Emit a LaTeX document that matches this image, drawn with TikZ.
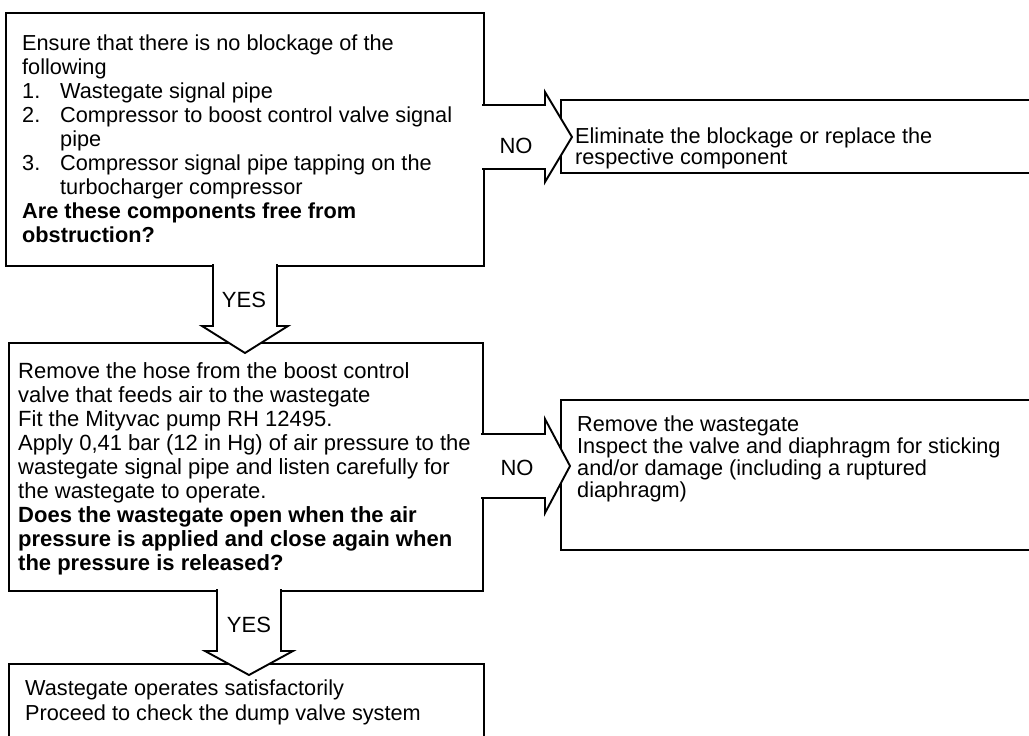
\documentclass[tikz,border=0pt]{standalone}
\usepackage{fontspec}
\setmainfont{Liberation Sans}
\begin{document}
\begin{tikzpicture}[x=1pt,y=-1pt,
  box/.style={draw, line width=1.9pt, fill=white, rectangle, inner sep=0pt, anchor=north west},
  body/.style={anchor=north west, inner sep=0pt, align=left, font=\fontsize{21.7}{24}\selectfont},
  tag/.style={inner sep=0pt, font=\fontsize{22}{24}\selectfont},
  outline/.style={line width=1.9pt, line join=miter}]
\useasboundingbox (0,0) rectangle (1029,736);
\clip (0,0) rectangle (1029,736);

% question and action boxes
\node[box, minimum width=478pt, minimum height=253pt] (q1) at (5,12) {};
\node[box, minimum width=480pt, minimum height=73pt] (r1) at (560,99) {};
\node[box, minimum width=474pt, minimum height=248pt] (q2) at (8,342) {};
\node[box, minimum width=480pt, minimum height=150pt] (r2) at (560,399) {};
\node[box, minimum width=475pt, minimum height=85pt] (done) at (8,663) {};

% block arrows: NO to the right, YES downwards
\fill[white] (480,105) -- (545,105) -- (545,92) -- (572,137) -- (545,182) -- (545,169) -- (480,169) -- cycle;
\draw[outline] (482,105) -- (545,105) -- (545,92) -- (572,137) -- (545,182) -- (545,169) -- (482,169);

\fill[white] (480,434) -- (545,434) -- (545,419) -- (570,466) -- (545,513) -- (545,498) -- (480,498) -- cycle;
\draw[outline] (481,434) -- (545,434) -- (545,419) -- (570,466) -- (545,513) -- (545,498) -- (481,498);

\fill[white] (213,262) -- (213,326) -- (202,326) -- (245,353) -- (288,326) -- (277,326) -- (277,262) -- cycle;
\draw[outline] (213,264) -- (213,326) -- (202,326) -- (245,353) -- (288,326) -- (277,326) -- (277,264);

\fill[white] (217,587) -- (217,651) -- (205,651) -- (249,675) -- (293,651) -- (281,651) -- (281,587) -- cycle;
\draw[outline] (217,589) -- (217,651) -- (205,651) -- (249,675) -- (293,651) -- (281,651) -- (281,589);

% arrow labels
\node[tag] (no1) at (516,146) {NO};
\node[tag] (no2) at (517,468) {NO};
\node[tag] (yes1) at (244,300) {YES};
\node[tag] (yes2) at (249,625) {YES};

% box texts
\node[body] (t1) at (22,34.2) {Ensure that there is no blockage of the\\
following\\
\makebox[38pt][l]{1.}Wastegate signal pipe\\
\makebox[38pt][l]{2.}Compressor to boost control valve signal\\
\hspace*{38pt}pipe\\
\makebox[38pt][l]{3.}Compressor signal pipe tapping on the\\
\hspace*{38pt}turbocharger compressor\\
\textbf{Are these components free from}\\
\textbf{obstruction?}};

\node[body, font=\fontsize{21.7}{21}\selectfont] (t2) at (575,127.2) {Eliminate the blockage or replace the\\
respective component};

\node[body, font=\fontsize{22}{24}\selectfont] (t3) at (18,362) {Remove the hose from the boost control\\
valve that feeds air to the wastegate\\
Fit the Mityvac pump RH 12495.\\
Apply 0,41 bar (12 in Hg) of air pressure to the\\
wastegate signal pipe and listen carefully for\\
the wastegate to operate.\\
\textbf{Does the wastegate open when the air}\\
\textbf{pressure is applied and close again when}\\
\textbf{the pressure is released?}};

\node[body, font=\fontsize{21.7}{22}\selectfont] (t4) at (577,415.2) {Remove the wastegate\\
Inspect the valve and diaphragm for sticking\\
and/or damage (including a ruptured\\
diaphragm)};

\node[body, font=\fontsize{21.7}{25}\selectfont] (t5) at (25,679.2) {Wastegate operates satisfactorily\\
Proceed to check the dump valve system};
\end{tikzpicture}
\end{document}
